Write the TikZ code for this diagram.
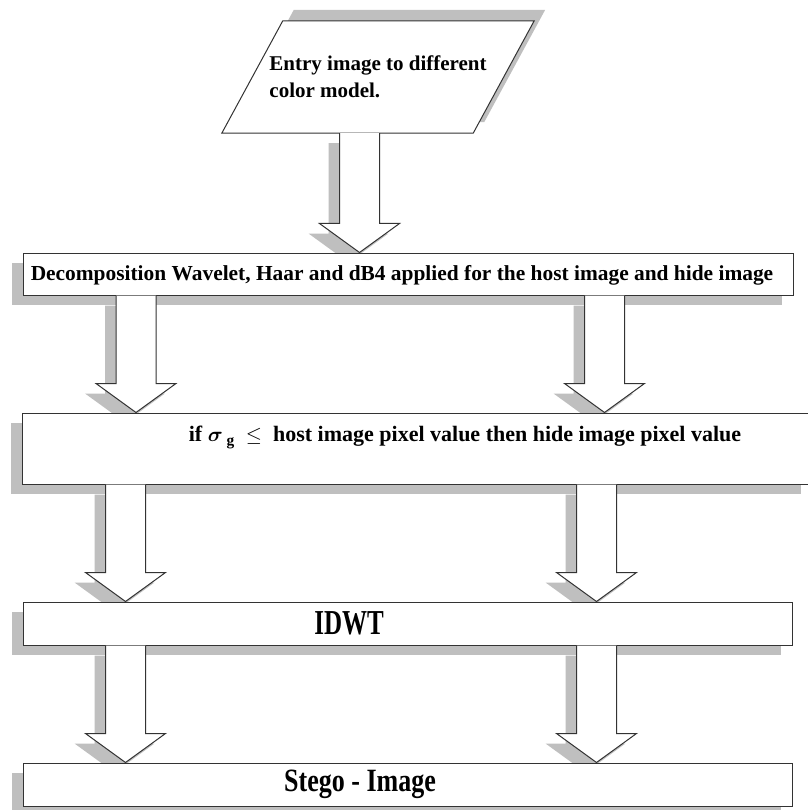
\documentclass[tikz,border=0pt]{standalone}
\usepackage{fontspec}
\setmainfont{Liberation Serif}
\usepackage{amsmath}
\usetikzlibrary{positioning, shadows, backgrounds, calc}

\definecolor{shadowgray}{gray}{0.75}
\definecolor{edgegray}{gray}{0.2}

\tikzset{
  stepbox/.style={draw=edgegray, line width=1pt, fill=white, inner sep=0pt,
    drop shadow={shadow xshift=-11pt, shadow yshift=-10pt, opacity=1, fill=shadowgray}},
  steptext/.style={inner sep=0pt, font=\fontsize{21}{27}\selectfont\bfseries},
  arrowbody/.style={draw=edgegray, line width=1pt, fill=white, line join=miter},
}

% hollow block arrow from one step to the next, at a given x
\newcommand{\blockarrow}[3]{%
  \coordinate (ba-s) at (#3,0 |- #1.south);
  \coordinate (ba-t) at (#3,0 |- #2.north);
  \begin{scope}[on background layer]
    \fill[shadowgray, transform canvas={shift={(-11,10)}}]
      ($(ba-s)+(-20,0)$) -- ($(ba-t)+(-20,-29)$) -- ($(ba-t)+(-40,-29)$) -- (ba-t)
      -- ($(ba-t)+(40,-29)$) -- ($(ba-t)+(20,-29)$) -- ($(ba-s)+(20,0)$) -- cycle;
  \end{scope}
  \filldraw[arrowbody]
    ($(ba-s)+(-20,0)$) -- ($(ba-t)+(-20,-29)$) -- ($(ba-t)+(-40,-29)$) -- (ba-t)
    -- ($(ba-t)+(40,-29)$) -- ($(ba-t)+(20,-29)$) -- ($(ba-s)+(20,0)$);
}

\begin{document}
\begin{tikzpicture}[x=1pt, y=-1pt]
  \useasboundingbox (0,0) rectangle (807,810);

  % Entry (parallelogram)
  \node[steptext, minimum width=251pt, minimum height=112pt, align=left]
    (entry) at (378,77) {Entry image to different\\color model.};
  \begin{scope}[on background layer]
    \filldraw[draw=edgegray, line width=1pt, fill=white,
      drop shadow={shadow xshift=11pt, shadow yshift=11pt, opacity=1, fill=shadowgray}]
      ([xshift=-30.5pt]entry.south west) -- ([xshift=30.5pt]entry.north west)
      -- ([xshift=30.5pt]entry.north east) -- ([xshift=-30.5pt]entry.south east) -- cycle;
  \end{scope}

  % Steps
  \node[stepbox, minimum width=770pt, minimum height=42pt] (decomp) at (408,274) {};
  \node[stepbox, minimum width=790pt, minimum height=71pt] (cond) at (417,448.5) {};
  \node[stepbox, minimum width=769pt, minimum height=43pt] (idwt) at (407.5,623.5) {};
  \node[stepbox, minimum width=769pt, minimum height=43pt] (stego) at (407.5,784.5) {};

  % Step texts
  \node[steptext, font=\fontsize{21.4}{26}\selectfont\bfseries] (decomptext) at ([xshift=-6pt, yshift=-1pt]decomp.center)
    {Decomposition Wavelet, Haar and dB4 applied for the host image and hide image};
  \node[steptext, font=\fontsize{22}{26}\selectfont\bfseries] (condtext) at ([xshift=48pt, yshift=11pt]cond.center)
    {if $\boldsymbol{\sigma}_{\;\mathbf{g}}$\ \ $\leq$\ \ host image pixel value then hide image pixel value};
  \node[steptext, font=\fontsize{25}{30}\selectfont\bfseries] (idwttext) at ([xshift=-58.5pt]idwt.center)
    {\scalebox{1}[1.4]{IDWT}};
  \node[steptext, font=\fontsize{26}{30}\selectfont\bfseries] (stegotext) at ([xshift=-47.5pt]stego.center)
    {\scalebox{1}[1.25]{Stego - Image}};

  % Arrows
  \blockarrow{entry}{decomp}{359.5}
  \blockarrow{decomp}{cond}{136}
  \blockarrow{decomp}{cond}{604.5}
  \blockarrow{cond}{idwt}{125.5}
  \blockarrow{cond}{idwt}{596.5}
  \blockarrow{idwt}{stego}{125.5}
  \blockarrow{idwt}{stego}{596.5}
\end{tikzpicture}
\end{document}
